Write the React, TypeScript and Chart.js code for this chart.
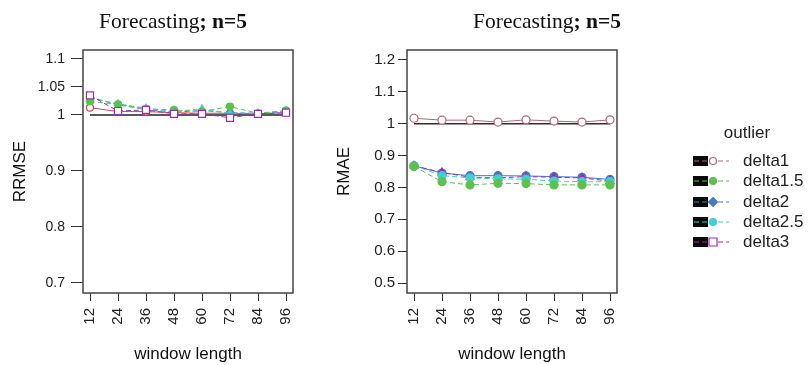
import React, { useEffect, useRef } from "react";
import { Chart, registerables } from "chart.js";

Chart.register(...registerables);

const xTicks = [12, 24, 36, 48, 60, 72, 84, 96];
const rrmseTicks = [0.7, 0.8, 0.9, 1, 1.05, 1.1];
const rmaeTicks = [0.5, 0.6, 0.7, 0.8, 0.9, 1, 1.1, 1.2];
const seriesNames = ["delta1", "delta1.5", "delta2", "delta2.5", "delta3"];
const referenceLine = [1, 1, 1, 1, 1, 1, 1, 1];

const rrmseDelta1 = [1.013, 1.006, 1.006, 1.004, 1.003, 1.003, 1.002, 1.004];
const rrmseDelta15 = [1.024, 1.019, 1.011, 1.009, 1.006, 1.015, 1.003, 1.008];
const rrmseDelta2 = [1.032, 1.018, 1.010, 1.005, 1.008, 1.004, 1.003, 1.006];
const rrmseDelta25 = [1.030, 1.020, 1.012, 1.006, 1.011, 1.003, 1.003, 1.007];
const rrmseDelta3 = [1.035, 1.007, 1.009, 1.002, 1.002, 0.995, 1.002, 1.004];

const rmaeDelta1 = [1.017, 1.011, 1.011, 1.005, 1.012, 1.008, 1.005, 1.012];
const rmaeDelta15 = [0.866, 0.818, 0.808, 0.813, 0.812, 0.808, 0.808, 0.808];
const rmaeDelta2 = [0.868, 0.845, 0.837, 0.837, 0.836, 0.834, 0.832, 0.825];
const rmaeDelta25 = [0.868, 0.837, 0.830, 0.827, 0.826, 0.820, 0.818, 0.818];
const rmaeDelta3 = [0.868, 0.847, 0.832, 0.830, 0.834, 0.832, 0.830, 0.820];

const SANS = "'Liberation Sans', Arial, sans-serif";
const SERIF = "'Liberation Serif', 'Times New Roman', serif";

const colors = {
  d1: "#d8405a",
  d1b: "#b06878",
  d15: "#5cc24c",
  d2: "#4a78c8",
  d25: "#3fd0d0",
  d3: "#9a30b0",
};

function pts(vals: number[]) {
  return xTicks.map((x, i) => ({ x, y: vals[i] }));
}

function series(label: string, vals: number[], color: string, style: string, filled: boolean, dashed: boolean, radius: number, width = 1) {
  return {
    label,
    data: pts(vals),
    borderColor: color,
    backgroundColor: color,
    borderWidth: width,
    borderDash: dashed ? [5, 3] : [],
    pointStyle: style,
    pointRadius: radius,
    pointBorderWidth: 1.2,
    pointBorderColor: color,
    pointBackgroundColor: filled ? color : "#ffffff",
    tension: 0,
  };
}

function drawTitle(ctx: CanvasRenderingContext2D, cx: number, cy: number) {
  ctx.save();
  ctx.fillStyle = "#111";
  ctx.textBaseline = "middle";
  const a = "Forecasting";
  const b = "; n=5";
  const size = 21.5;
  ctx.font = `${size}px ${SERIF}`;
  const wa = ctx.measureText(a).width;
  ctx.font = `bold ${size}px ${SERIF}`;
  const wb = ctx.measureText(b).width;
  const x0 = cx - (wa + wb) / 2;
  ctx.font = `${size}px ${SERIF}`;
  ctx.textAlign = "left";
  ctx.fillText(a, x0, cy);
  ctx.font = `bold ${size}px ${SERIF}`;
  ctx.fillText(b, x0 + wa, cy);
  ctx.restore();
}

function makeOptions(cfg: any) {
  return {
    responsive: false,
    animation: false,
    devicePixelRatio: 1,
    layout: { padding: { left: 0, top: 50, right: cfg.padRight, bottom: 0 } },
    plugins: { legend: { display: false }, tooltip: { enabled: false }, title: { display: false } },
    scales: {
      x: {
        type: "linear",
        min: cfg.xMin,
        max: cfg.xMax,
        afterBuildTicks: (s: any) => {
          s.ticks = xTicks.map((v) => ({ value: v }));
        },
        afterFit: (s: any) => {
          s.height = 72;
          s.paddingLeft = 0;
          s.paddingRight = 0;
        },
        ticks: {
          minRotation: 90,
          maxRotation: 90,
          autoSkip: false,
          padding: 7,
          color: "#222",
          font: { family: SANS, size: 15 },
          callback: (v: any) => String(v),
        },
        grid: { drawOnChartArea: false, drawTicks: true, tickLength: 8, color: "#333", lineWidth: 1 },
        border: { display: false },
      },
      y: {
        type: "linear",
        min: cfg.yMin,
        max: cfg.yMax,
        afterBuildTicks: (s: any) => {
          s.ticks = cfg.yTicks.map((v: number) => ({ value: v }));
        },
        afterFit: (s: any) => {
          s.width = cfg.yWidth;
          s.paddingTop = 0;
          s.paddingBottom = 0;
        },
        ticks: {
          padding: cfg.yPad,
          color: "#222",
          font: { family: SANS, size: cfg.yFont },
          callback: (v: any) => String(v),
        },
        grid: { drawOnChartArea: false, drawTicks: true, tickLength: cfg.yTickLen, color: "#333", lineWidth: 1 },
        border: { display: false },
      },
    },
  };
}

function decorPlugin(cfg: any) {
  return {
    id: "decor",
    afterDraw(chart: any) {
      const ctx: CanvasRenderingContext2D = chart.ctx;
      const a = chart.chartArea;
      ctx.save();
      ctx.strokeStyle = "#444";
      ctx.lineWidth = 1.5;
      ctx.strokeRect(a.left, a.top, a.right - a.left, a.bottom - a.top);
      ctx.restore();
      drawTitle(ctx, cfg.titleX, 22);
      ctx.save();
      ctx.fillStyle = "#111";
      ctx.font = `17px ${SANS}`;
      ctx.textAlign = "center";
      ctx.textBaseline = "middle";
      ctx.fillText("window length", (a.left + a.right) / 2, 354);
      ctx.translate(cfg.yTitleX, (a.top + a.bottom) / 2);
      ctx.rotate(-Math.PI / 2);
      ctx.fillText(cfg.yTitle, 0, 0);
      ctx.restore();
      if (cfg.legend) drawLegend(ctx, cfg.legendOffset);
    },
  };
}

const legendStyles = [
  { color: colors.d1b, shape: "circle", filled: false },
  { color: colors.d15, shape: "circle", filled: true },
  { color: colors.d2, shape: "diamond", filled: true },
  { color: colors.d25, shape: "circle", filled: true },
  { color: colors.d3, shape: "square", filled: false },
];

function drawLegend(ctx: CanvasRenderingContext2D, off: number) {
  ctx.save();
  ctx.fillStyle = "#222";
  ctx.font = `17px ${SANS}`;
  ctx.textAlign = "center";
  ctx.textBaseline = "middle";
  ctx.fillText("outlier", 747 - off, 133);
  const rows = [161, 181, 202, 222, 242];
  seriesNames.forEach((name, i) => {
    const y = rows[i];
    const st = legendStyles[i];
    ctx.fillStyle = "#0a0a0a";
    ctx.fillRect(693 - off, y - 5, 15, 10);
    ctx.strokeStyle = st.color;
    ctx.lineWidth = 1;
    ctx.setLineDash([5, 3]);
    ctx.beginPath();
    ctx.moveTo(694 - off, y);
    ctx.lineTo(729 - off, y);
    ctx.stroke();
    ctx.setLineDash([]);
    const mx = 713 - off;
    ctx.beginPath();
    if (st.shape === "circle") ctx.arc(mx, y, 3.5, 0, Math.PI * 2);
    else if (st.shape === "square") ctx.rect(mx - 4, y - 4, 8, 8);
    else {
      ctx.moveTo(mx, y - 4.5);
      ctx.lineTo(mx + 4.5, y);
      ctx.lineTo(mx, y + 4.5);
      ctx.lineTo(mx - 4.5, y);
      ctx.closePath();
    }
    ctx.fillStyle = st.filled ? st.color : "#ffffff";
    ctx.fill();
    ctx.lineWidth = 1.2;
    ctx.stroke();
    ctx.fillStyle = "#222";
    ctx.textAlign = "left";
    ctx.fillText(name, 743 - off, y);
  });
  ctx.restore();
}

export default function App() {
  const leftRef = useRef<HTMLCanvasElement>(null);
  const rightRef = useRef<HTMLCanvasElement>(null);

  useEffect(() => {
    const refDs = {
      label: "reference",
      data: pts(referenceLine),
      borderColor: "#222",
      borderWidth: 1.5,
      pointRadius: 0,
      tension: 0,
    };
    const leftCfg = {
      padRight: 7, xMin: 9, xMax: 99, yMin: 0.682, yMax: 1.116, yTicks: rrmseTicks, yWidth: 83,
      yFont: 14, yPad: 6, yTickLen: 12,
      titleX: 173, yTitleX: 20, yTitle: "RRMSE", legend: false, legendOffset: 0,
    };
    const rightCfg = {
      padRight: 191, xMin: 9, xMax: 99, yMin: 0.469, yMax: 1.231, yTicks: rmaeTicks, yWidth: 107,
      yFont: 15, yPad: 3, yTickLen: 9,
      titleX: 247, yTitleX: 44, yTitle: "RMAE", legend: true, legendOffset: 300,
    };
    const c1 = new Chart(leftRef.current as HTMLCanvasElement, {
      type: "line",
      data: {
        datasets: [
          series(seriesNames[4], rrmseDelta3, colors.d3, "rect", false, true, 5),
          series(seriesNames[1], rrmseDelta15, colors.d15, "circle", true, true, 3.5),
          series(seriesNames[3], rrmseDelta25, colors.d25, "triangle", true, true, 4),
          series(seriesNames[2], rrmseDelta2, colors.d2, "rectRot", true, true, 3.5),
          series(seriesNames[0], rrmseDelta1, colors.d1, "circle", false, false, 3.5),
          refDs,
        ] as any,
      },
      options: makeOptions(leftCfg) as any,
      plugins: [decorPlugin(leftCfg)],
    });
    const c2 = new Chart(rightRef.current as HTMLCanvasElement, {
      type: "line",
      data: {
        datasets: [
          series(seriesNames[0], rmaeDelta1, colors.d1b, "circle", false, false, 4),
          series(seriesNames[1], rmaeDelta15, colors.d15, "circle", true, true, 4),
          series(seriesNames[3], rmaeDelta25, colors.d25, "circle", true, true, 4),
          series(seriesNames[4], rmaeDelta3, colors.d3, "triangle", true, true, 4.5),
          series(seriesNames[2], rmaeDelta2, colors.d2, "circle", true, false, 4),
          { ...refDs, borderColor: "#3a2a2a" },
        ] as any,
      },
      options: makeOptions(rightCfg) as any,
      plugins: [decorPlugin(rightCfg)],
    });
    return () => {
      c1.destroy();
      c2.destroy();
    };
  }, []);

  return (
    <div style={{ position: "absolute", left: 0, top: 0, width: 808, height: 365, background: "#fff" }}>
      <canvas ref={leftRef} width={300} height={365} style={{ position: "absolute", left: 0, top: 0, width: 300, height: 365 }} />
      <canvas ref={rightRef} width={508} height={365} style={{ position: "absolute", left: 300, top: 0, width: 508, height: 365 }} />
    </div>
  );
}
